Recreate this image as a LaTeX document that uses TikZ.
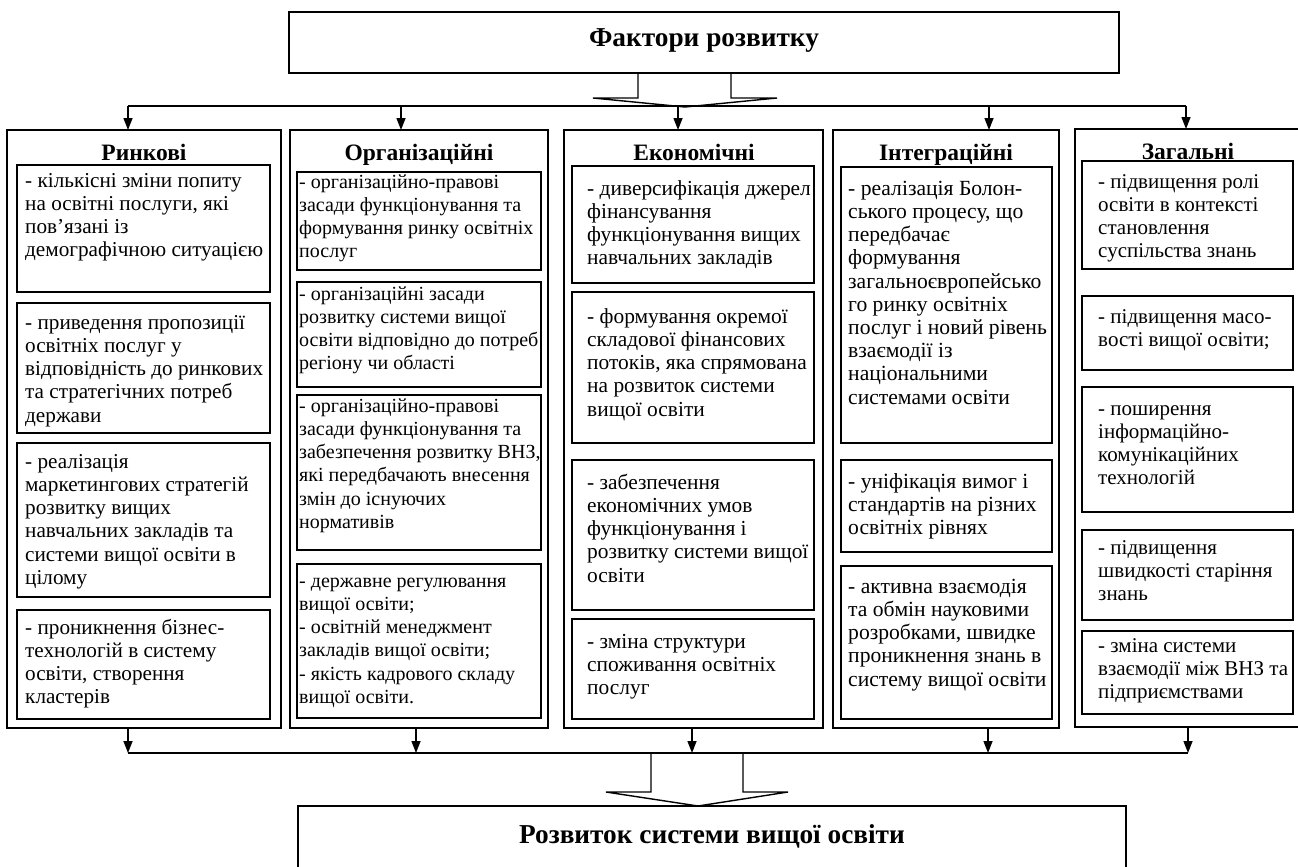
\documentclass[tikz,border=0pt]{standalone}
\usepackage{fontspec}
\setmainfont{Liberation Serif}
\usetikzlibrary{arrows.meta}
\newcommand{\colfs}{21}
\tikzset{
  ibox/.style={draw, line width=1.4pt, anchor=north west, inner sep=0pt, outer sep=0pt},
  obox/.style={draw, line width=1.4pt, anchor=north west, inner sep=0pt, outer sep=0pt},
  itxt/.style={anchor=north west, inner sep=0pt, align=left, font=\fontsize{\colfs}{23.2}\selectfont},
  ctitle/.style={anchor=base, inner sep=0pt, font=\fontsize{23.5}{26}\selectfont\bfseries},
  mtitle/.style={inner sep=0pt, font=\fontsize{27.3}{30}\selectfont\bfseries},
  arr/.style={-{Triangle[length=12pt,width=9pt]}, line width=1.4pt},
  bus/.style={line width=1.6pt},
  blk/.style={line width=1.4pt, line join=miter},
}
\newcommand{\mkbox}[8]{%
  \node[ibox, minimum width={#4-#2}, minimum height={#5-#3}] (#1) at (#2,#3) {};
  \node[itxt] (#1t) at ([shift={(#6,#7-16.24)}]#1.north west) {\strut #8};
}
\begin{document}
\begin{tikzpicture}[x=1pt,y=-1pt]
\useasboundingbox (0,0) rectangle (1298,867);
% top box
\node[obox, minimum width=830, minimum height=61] (top) at (289,12) {};
\node[mtitle] (toptitle) at (704,41) {Фактори розвитку};
% block arrow from top
\draw[blk] (638,73) -- (638,98) -- (593,98) -- (685,107) -- (777,98) -- (731,98) -- (731,73);
% top bus
\coordinate (t1) at (128,106);
\coordinate (t2) at (401,106);
\coordinate (t3) at (678,106);
\coordinate (t4) at (989,106);
\coordinate (t5) at (1186,106);
\draw[bus] (t1) -- (t5);
% columns
\node[obox, minimum width=274, minimum height=598] (c1) at (7,130) {};
\node[obox, minimum width=258, minimum height=598] (c2) at (290,130) {};
\node[obox, minimum width=259, minimum height=598] (c3) at (564,130) {};
\node[obox, minimum width=226, minimum height=598] (c4) at (833,130) {};
\node[obox, minimum width=226, minimum height=598] (c5) at (1075,129) {};
\draw[arr] (t1) -- (t1 |- c1.north);
\draw[arr] (t2) -- (t2 |- c2.north);
\draw[arr] (t3) -- (t3 |- c3.north);
\draw[arr] (t4) -- (t4 |- c4.north);
\draw[arr] (t5) -- (t5 |- c5.north);
% column titles
\node[ctitle] at (144,160) {Ринкові};
\node[ctitle] at (419,160) {Організаційні};
\node[ctitle] at (694,160) {Економічні};
\node[ctitle] at (946,160) {Інтеграційні};
\node[ctitle] at (1188,159) {Загальні};
% column 1
\renewcommand{\colfs}{21.2}
\mkbox{a1}{17}{165}{270}{292}{8}{22}{- кількісні зміни попиту\\на освітні послуги, які\\пов’язані із\\демографічною ситуацією}
\mkbox{a2}{17}{303}{270}{433}{8}{26}{- приведення пропозиції\\освітніх послуг у\\відповідність до ринкових\\та стратегічних потреб\\держави}
\mkbox{a3}{17}{443}{270}{597}{8}{25}{- реалізація\\маркетингових стратегій\\розвитку вищих\\навчальних закладів та\\системи вищої освіти в\\цілому}
\mkbox{a4}{17}{610}{270}{719}{8}{24}{- проникнення бізнес-\\технологій в систему\\освіти, створення\\кластерів}
% column 2
\renewcommand{\colfs}{20.0}
\mkbox{b1}{297}{172}{541}{270}{2}{16}{- організаційно-правові\\засади функціонування та\\формування ринку освітніх\\послуг}
\mkbox{b2}{297}{282}{541}{387}{2}{18}{- організаційні засади\\розвитку системи вищої\\освіти відповідно до потреб\\регіону чи області}
\mkbox{b3}{297}{395}{541}{550}{2}{17}{- організаційно-правові\\засади функціонування та\\забезпечення розвитку ВНЗ,\\які передбачають внесення\\змін до існуючих\\нормативів}
\mkbox{b4}{297}{564}{541}{718}{2}{23}{- державне регулювання\\вищої освіти;\\- освітній менеджмент\\закладів вищої освіти;\\- якість кадрового складу\\вищої освіти.}
% column 3
\renewcommand{\colfs}{21.4}
\mkbox{e1}{572}{166}{814}{283}{15}{29}{- диверсифікація джерел\\фінансування\\функціонування вищих\\навчальних закладів}
\mkbox{e2}{572}{292}{814}{443}{15}{31}{- формування окремої\\складової фінансових\\потоків, яка спрямована\\на розвиток системи\\вищої освіти}
\mkbox{e3}{572}{460}{814}{610}{15}{29}{- забезпечення\\економічних умов\\функціонування і\\розвитку системи вищої\\освіти}
\mkbox{e4}{572}{619}{814}{719}{15}{29}{- зміна структури\\споживання освітніх\\послуг}
% column 4
\renewcommand{\colfs}{21.6}
\mkbox{i1}{841}{167}{1052}{443}{7}{28}{- реалізація Болон-\\ського процесу, що\\передбачає\\формування\\загальноєвропейсько\\го ринку освітніх\\послуг і новий рівень\\взаємодії із\\національними\\системами освіти}
\mkbox{i2}{841}{460}{1052}{552}{7}{28}{- уніфікація вимог і\\стандартів на різних\\освітніх рівнях}
\mkbox{i3}{841}{566}{1052}{719}{7}{27}{- активна взаємодія\\та обмін науковими\\розробками, швидке\\проникнення знань в\\систему вищої освіти}
% column 5
\renewcommand{\colfs}{21.0}
\mkbox{g1}{1082}{161}{1293}{269}{16}{27}{- підвищення ролі\\освіти в контексті\\становлення\\суспільства знань}
\mkbox{g2}{1082}{296}{1293}{370}{16}{27}{- підвищення масо-\\вості вищої освіти;}
\mkbox{g3}{1082}{387}{1293}{512}{16}{28}{- поширення\\інформаційно-\\комунікаційних\\технологій}
\mkbox{g4}{1082}{530}{1293}{620}{16}{24}{- підвищення\\швидкості старіння\\знань}
\mkbox{g5}{1082}{631}{1293}{714}{16}{21}{- зміна системи\\взаємодії між ВНЗ та\\підприємствами}
% bottom bus
\coordinate (u1) at (128,753);
\coordinate (u2) at (416,753);
\coordinate (u3) at (692,753);
\coordinate (u4) at (988,753);
\coordinate (u5) at (1188,753);
\draw[bus] (u1) -- (u5);
\draw[arr] (u1 |- c1.south) -- (u1);
\draw[arr] (u2 |- c2.south) -- (u2);
\draw[arr] (u3 |- c3.south) -- (u3);
\draw[arr] (u4 |- c4.south) -- (u4);
\draw[arr] (u5 |- c5.south) -- (u5);
% bottom block arrow and box
\draw[blk] (651,753) -- (651,792) -- (606,792) -- (698,806) -- (788,792) -- (743,792) -- (743,753);
\node[obox, minimum width=828, minimum height=80] (bot) at (298,806) {};
\node[mtitle] (bottitle) at (712,836) {Розвиток системи вищої освіти};
\end{tikzpicture}
\end{document}
